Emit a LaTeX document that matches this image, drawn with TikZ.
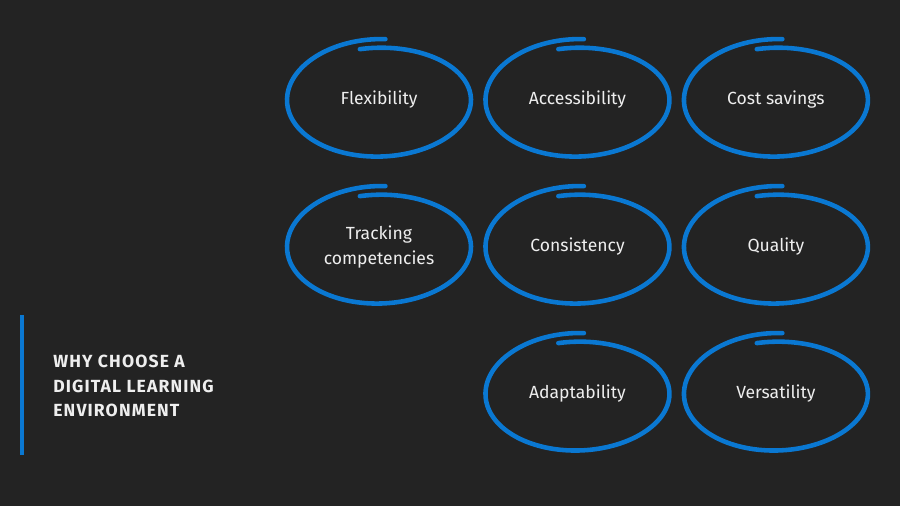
\documentclass[tikz,border=0pt]{standalone}
\usepackage{fontspec}
\setmainfont{Fira Sans}
\usetikzlibrary{positioning}
\definecolor{bgdark}{HTML}{232323}
\definecolor{ringblue}{HTML}{0A78D2}
\definecolor{textwhite}{HTML}{EEEEEE}

\begin{document}
\begin{tikzpicture}[x=0.02cm,y=-0.02cm,node distance=3.97cm,
  item/.style={text=textwhite,font=\fontsize{10}{14}\selectfont,align=center},
  title/.style={text=textwhite,align=left,inner sep=0pt,
    font=\fontsize{10}{14}\selectfont\bfseries\addfontfeatures{LetterSpace=6.5}},
  ring/.style={draw=ringblue,line width=2.6pt,line cap=round,line join=round}]

  \fill[bgdark] (0,0) rectangle (900,506);

  \node[item] (flex) at (379,100) {Flexibility};
  \node[item] (access) [right of=flex] {Accessibility};
  \node[item] (cost) [right of=access] {Cost savings};
  \node[item] (track) [below of=flex,node distance=2.94cm] {Tracking\\competencies};
  \node[item] (consist) [right of=track] {Consistency};
  \node[item] (quality) [right of=consist] {Quality};
  \node[item] (adapt) [below of=consist,node distance=2.94cm] {Adaptability};
  \node[item] (versa) [right of=adapt] {Versatility};

  % hand drawn rings round the items
  \foreach \n in {flex,access,cost,track,consist,quality,adapt,versa}
    \draw[ring,shift={(\n)}] plot[smooth,domain=86:462,samples=90]
      ({92*cos(\x)},{-(61-0.024*(\x-86))*sin(\x)});

  \fill[ringblue] (20,315) rectangle (24,455);
  \node[title,anchor=west] (heading) at (53,386) {WHY CHOOSE A\\DIGITAL LEARNING\\ENVIRONMENT};
\end{tikzpicture}
\end{document}
